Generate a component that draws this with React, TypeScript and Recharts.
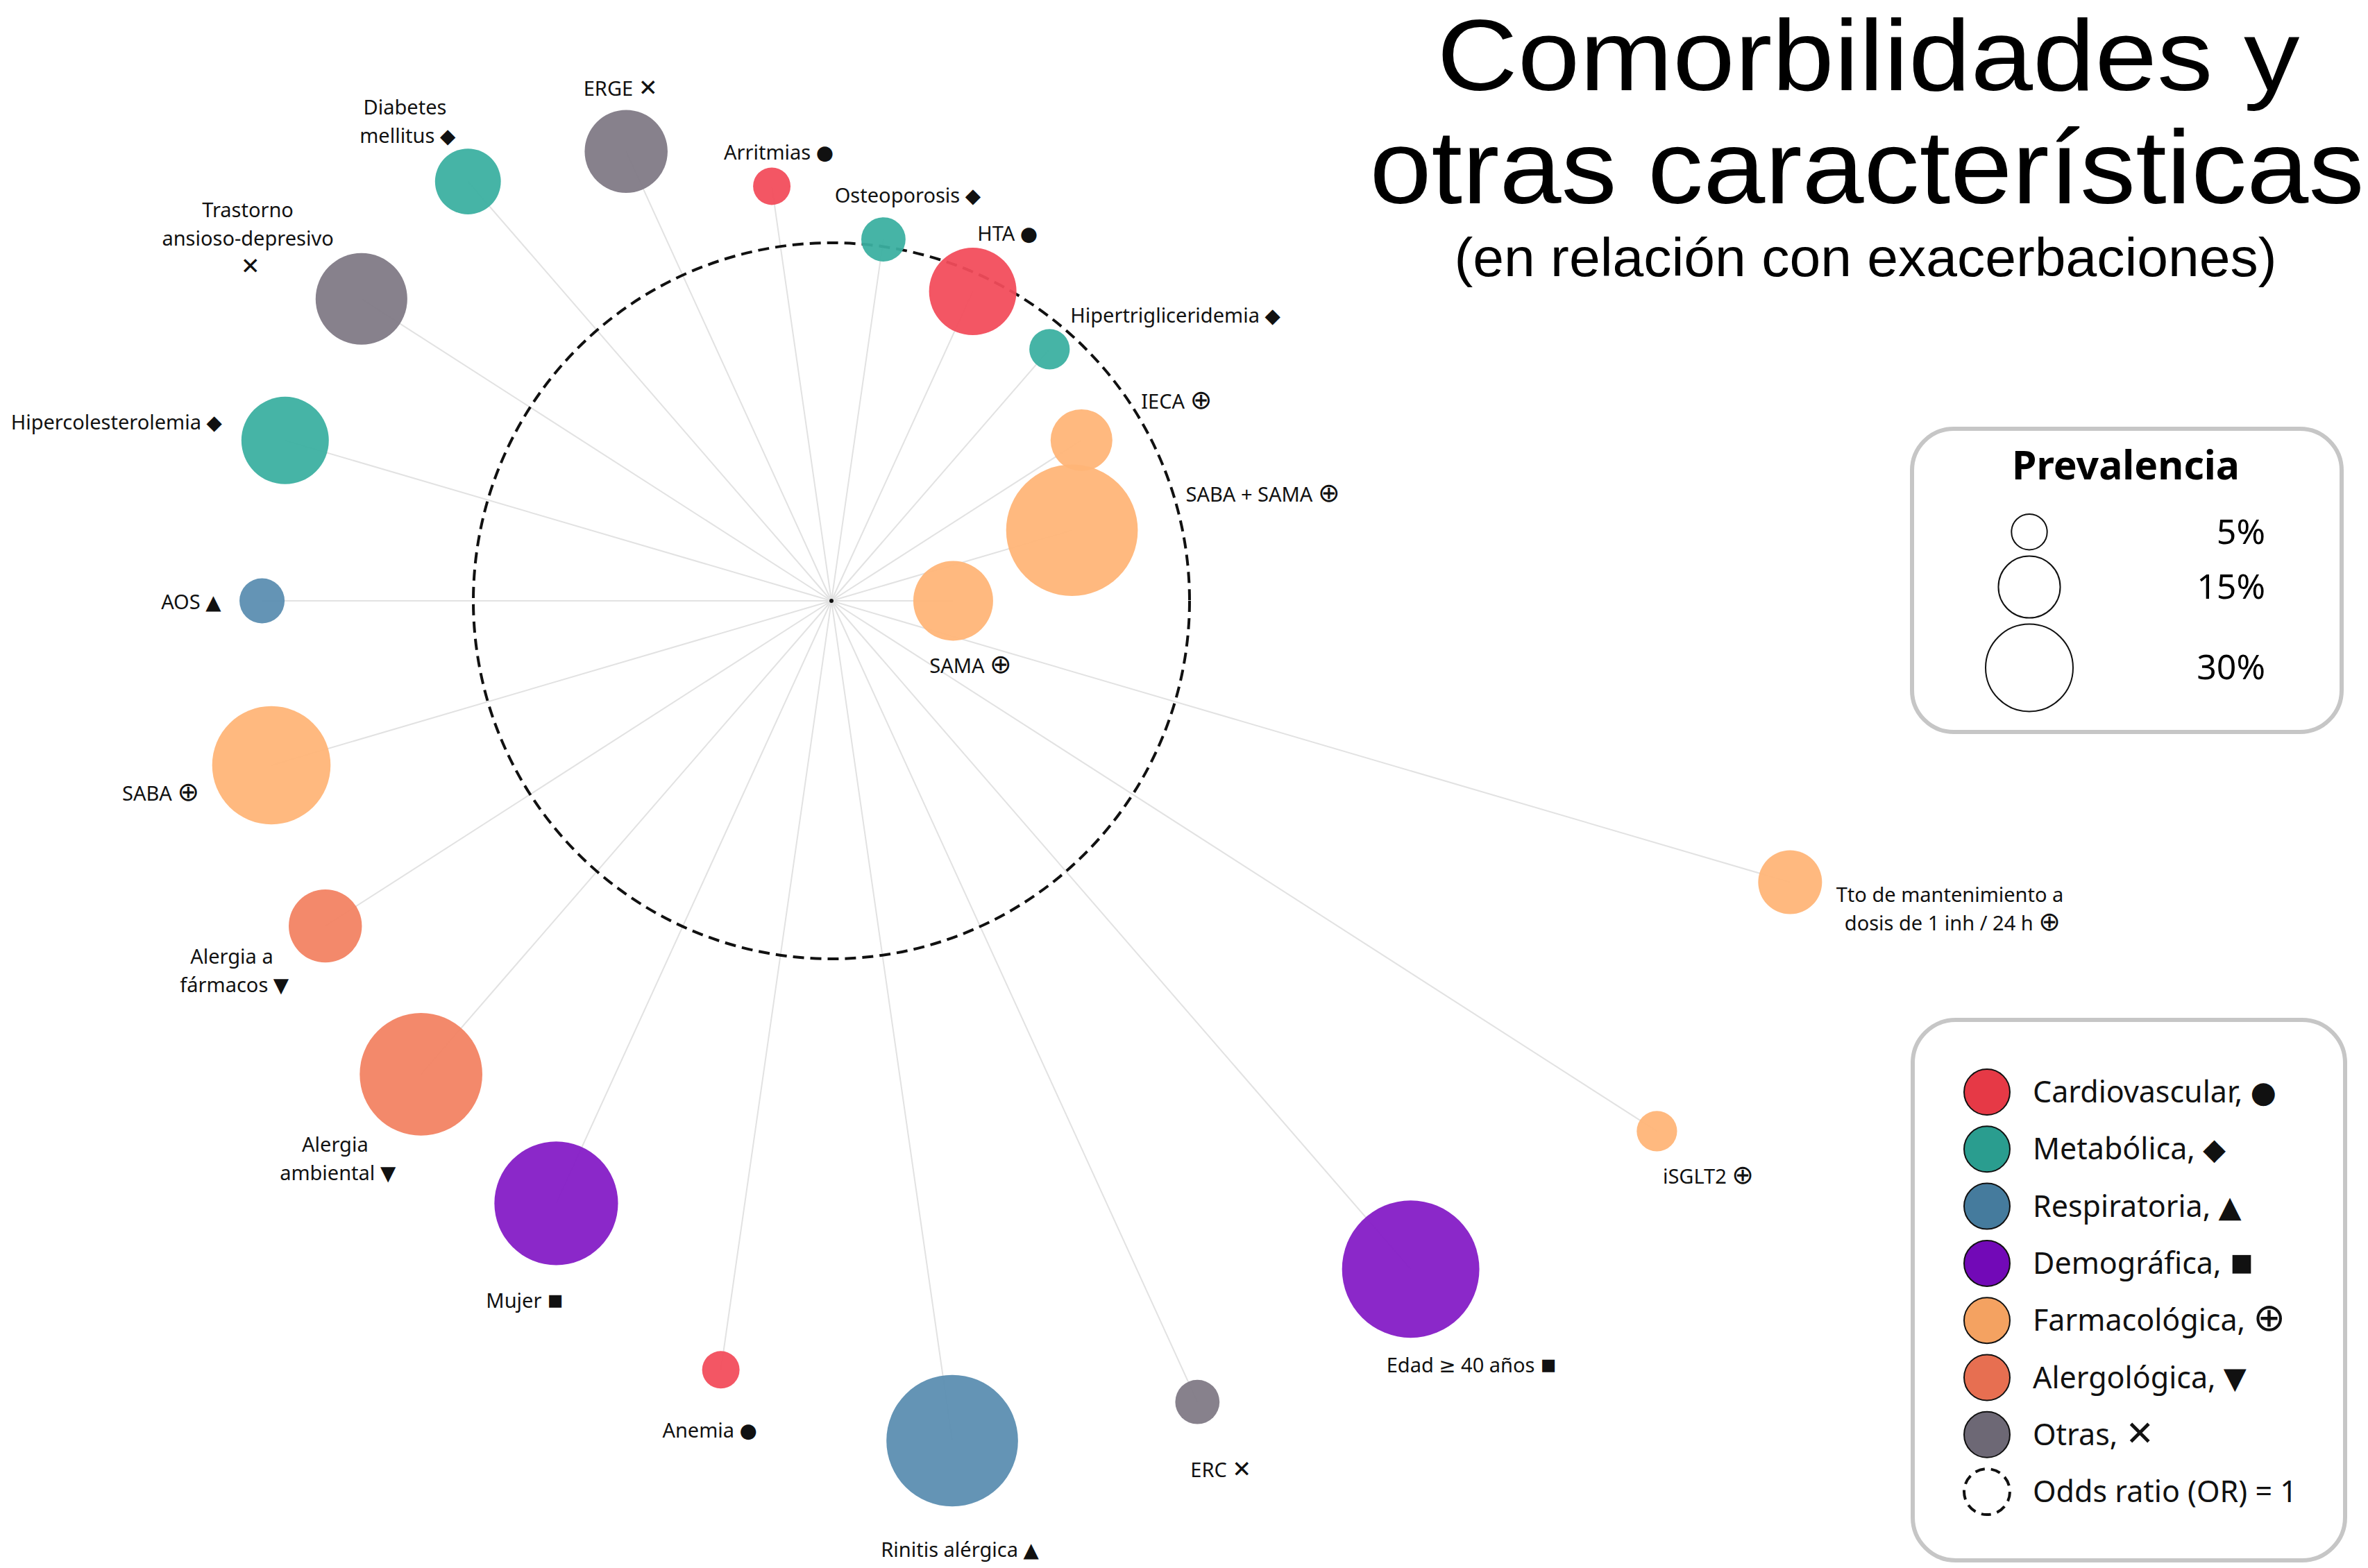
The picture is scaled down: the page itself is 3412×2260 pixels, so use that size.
import React from 'react';
import {
  ScatterChart, Scatter, XAxis, YAxis, ZAxis, ReferenceLine, ReferenceDot,
} from 'recharts';

// Factores en sentido horario, empezando justo a la derecha de las 12 en punto
const factors = [
  'Osteoporosis', 'HTA', 'Hipertrigliceridemia', 'IECA', 'SABA + SAMA', 'SAMA',
  'Tto de mantenimiento a dosis de 1 inh / 24 h', 'iSGLT2', 'Edad ≥ 40 años', 'ERC',
  'Rinitis alérgica', 'Anemia', 'Mujer', 'Alergia ambiental', 'Alergia a fármacos',
  'SABA', 'AOS', 'Hipercolesterolemia', 'Trastorno ansioso-depresivo',
  'Diabetes mellitus', 'ERGE', 'Arritmias',
];
// índice en `groups`
const factorGroup = [1, 0, 1, 4, 4, 4, 4, 4, 3, 6, 2, 0, 3, 5, 5, 4, 2, 1, 6, 1, 6, 0];
const oddsRatio = [
  1.02, 0.95, 0.93, 0.83, 0.70, 0.34, 2.79, 2.74, 2.47, 2.46, 2.37,
  2.17, 1.85, 1.75, 1.68, 1.63, 1.59, 1.59, 1.56, 1.55, 1.38, 1.17,
];
const prevalence = [
  7.7, 30, 6.4, 15, 68, 25, 16, 6.4, 74, 7.7, 68,
  5.5, 60, 59, 21, 55, 8, 30, 33, 17, 27, 5.5,
];

const groups = [
  'Cardiovascular', 'Metabólica', 'Respiratoria', 'Demográfica',
  'Farmacológica', 'Alergológica', 'Otras',
];
const groupMarks = ['●', '◆', '▲', '▪', '⊕', '▼', '✕'];
const prevalenceTicks = [5, 15, 30];

const GROUP_COLORS = ['#E63946', '#2A9D8F', '#457B9D', '#7209B7', '#F4A261', '#E76F51', '#6D6875'];
const BUBBLE_COLORS = ['#F24B5A', '#3AAFA0', '#5A8DB0', '#841BC6', '#FFB577', '#F28262', '#7F7985'];
const MARK_SCALE = [1, 1, 1, 1.25, 1.3, 1, 1.15];

const W = 3412;
const H = 2260;
const CX = 1198; // centro del gráfico (px)
const CY = 866;
const UNIT = 516; // px por unidad de OR
const R100 = 115; // radio de burbuja con prevalencia 100 %
const STEP = 360 / factors.length;

const FONT = "'Noto Sans', 'DejaVu Sans', sans-serif";
const LABEL_FS = 29;
const LABEL_LH = 41;

type Anchor = 'start' | 'middle' | 'end';
const LABEL_LAYOUT: Record<string, { dx: number; dy: number; anchor?: Anchor; lines?: string[] }> = {
  Osteoporosis: { dx: 35, dy: -63 },
  HTA: { dx: 50, dy: -84 },
  Hipertrigliceridemia: { dx: 30, dy: -49, anchor: 'start' },
  IECA: { dx: 86, dy: -56, anchor: 'start' },
  'SABA + SAMA': { dx: 164, dy: -52, anchor: 'start' },
  SAMA: { dx: 25, dy: 94 },
  'Tto de mantenimiento a dosis de 1 inh / 24 h': {
    dx: 234, dy: 38, lines: ['Tto de mantenimiento a', 'dosis de 1 inh / 24 h'],
  },
  iSGLT2: { dx: 74, dy: 65 },
  'Edad ≥ 40 años': { dx: 88, dy: 138 },
  ERC: { dx: 34, dy: 98 },
  'Rinitis alérgica': { dx: 11, dy: 157 },
  Anemia: { dx: -16, dy: 87 },
  Mujer: { dx: -45, dy: 140 },
  'Alergia ambiental': { dx: -120, dy: 122, lines: ['Alergia', 'ambiental'] },
  'Alergia a fármacos': { dx: -131, dy: 64, lines: ['Alergia a', 'fármacos'] },
  SABA: { dx: -104, dy: 41, anchor: 'end' },
  AOS: { dx: -59, dy: 2, anchor: 'end' },
  Hipercolesterolemia: { dx: -91, dy: -26, anchor: 'end' },
  'Trastorno ansioso-depresivo': { dx: -160, dy: -87, lines: ['Trastorno', 'ansioso-depresivo', ''] },
  'Diabetes mellitus': { dx: -87, dy: -86, lines: ['Diabetes', 'mellitus'] },
  ERGE: { dx: -8, dy: -91 },
  Arritmias: { dx: 10, dy: -49 },
};

const points = factors.map((name, i) => {
  const a = ((i + 0.5) * STEP * Math.PI) / 180;
  return {
    name,
    group: factorGroup[i],
    prev: prevalence[i],
    x: oddsRatio[i] * Math.sin(a),
    y: oddsRatio[i] * Math.cos(a),
  };
});

function Mark({ group, size }: { group: number; size: number }) {
  return <tspan fontFamily="'DejaVu Sans', sans-serif" fontSize={size * MARK_SCALE[group]}>{groupMarks[group]}</tspan>;
}

function Bubble(props: any) {
  const { cx, cy, width, payload } = props;
  const lay = LABEL_LAYOUT[payload.name];
  const lines = lay.lines ? [...lay.lines] : [payload.name];
  const n = lines.length;
  return (
    <g>
      <circle cx={cx} cy={cy} r={width / 2} fill={BUBBLE_COLORS[payload.group]} fillOpacity={0.94} />
      <text textAnchor={lay.anchor ?? 'middle'} fontSize={LABEL_FS} fill="#111" fontFamily={FONT}>
        {lines.map((l, k) => (
          <tspan key={k} x={cx + lay.dx} y={cy + lay.dy + (k - (n - 1) / 2) * LABEL_LH + LABEL_FS * 0.36}>
            {l ? `${l} ` : ''}
            {k === n - 1 && <Mark group={payload.group} size={LABEL_FS} />}
          </tspan>
        ))}
      </text>
    </g>
  );
}

function Overlay() {
  const boxStroke = '#c6c6c6';
  let top = 741;
  const prevCircles = prevalenceTicks.map((p) => {
    const r = R100 * Math.sqrt(p / 100);
    const cy = top + r;
    top = cy + r + 9;
    return { p, r, cy };
  });
  const LEG_FS = 43;
  return (
    <svg width={W} height={H} style={{ position: 'absolute', left: 0, top: 0, pointerEvents: 'none' }}>
      {/* título */}
      <g fontFamily="'Liberation Sans Narrow', 'Liberation Sans', Arial, sans-serif" fill="#000" textAnchor="middle">
        <text x={2692} y={130} fontSize={144} textLength={1243} lengthAdjust="spacingAndGlyphs">
          Comorbilidades y
        </text>
        <text x={2690} y={293} fontSize={150} textLength={1433} lengthAdjust="spacingAndGlyphs">
          otras características
        </text>
        <text x={2688} y={398} fontSize={77} textLength={1185} lengthAdjust="spacingAndGlyphs">
          (en relación con exacerbaciones)
        </text>
      </g>

      {/* leyenda de prevalencia */}
      <rect x={2755} y={618} width={619} height={437} rx={60} fill="#fff" stroke={boxStroke} strokeWidth={6} />
      <text x={3063} y={691} textAnchor="middle" fontSize={57} fontWeight={700} fontFamily={FONT}>
        Prevalencia
      </text>
      {prevCircles.map((c) => (
        <g key={c.p}>
          <circle cx={2924} cy={c.cy} r={c.r} fill="none" stroke="#111" strokeWidth={2} />
          <text x={3264} y={c.cy + 17} textAnchor="end" fontSize={50} fontFamily={FONT}>
            {c.p}%
          </text>
        </g>
      ))}

      {/* leyenda de grupos */}
      <rect x={2756} y={1470} width={623} height={779} rx={62} fill="#fff" stroke={boxStroke} strokeWidth={6} />
      {groups.map((g, i) => {
        const cy = 1574 + i * 82.3;
        return (
          <g key={g}>
            <circle cx={2863} cy={cy} r={33} fill={GROUP_COLORS[i]} stroke="#111" strokeWidth={2} />
            <text x={2929} y={cy + 15} fontSize={LEG_FS} fontFamily={FONT} fill="#111">
              {g},{' '}
              <Mark group={i} size={LEG_FS} />
            </text>
          </g>
        );
      })}
      <circle cx={2863} cy={1574 + 7 * 82.3} r={33} fill="none" stroke="#111" strokeWidth={4} strokeDasharray="14 9" />
      <text x={2929} y={1574 + 7 * 82.3 + 15} fontSize={LEG_FS} fontFamily={FONT} fill="#111">
        Odds ratio (OR) = 1
      </text>
    </svg>
  );
}

export default function App() {
  return (
    <div style={{ position: 'absolute', left: 0, top: 0, width: W, height: H, background: '#fff' }}>
      <ScatterChart width={W} height={H} margin={{ top: 0, right: 0, bottom: 0, left: 0 }}>
        <XAxis type="number" dataKey="x" domain={[-CX / UNIT, (W - CX) / UNIT]} allowDataOverflow hide />
        <YAxis type="number" dataKey="y" domain={[-(H - CY) / UNIT, CY / UNIT]} allowDataOverflow hide />
        <ZAxis type="number" dataKey="prev" domain={[0, 100]} range={[0, Math.PI * R100 * R100]} />
        {points.map((p) => (
          <ReferenceLine
            key={p.name}
            segment={[{ x: 0, y: 0 }, { x: p.x, y: p.y }]}
            stroke="#e2e2e2"
            strokeWidth={2}
          />
        ))}
        <ReferenceDot
          x={0}
          y={0}
          r={UNIT}
          shape={(s: any) => (
            <circle cx={s.cx} cy={s.cy} r={UNIT} fill="none" stroke="#111" strokeWidth={4} strokeDasharray="16 9" />
          )}
        />
        <ReferenceDot x={0} y={0} r={3} fill="#111" stroke="none" />
        <Scatter data={points} shape={Bubble} isAnimationActive={false} />
      </ScatterChart>
      <Overlay />
    </div>
  );
}
